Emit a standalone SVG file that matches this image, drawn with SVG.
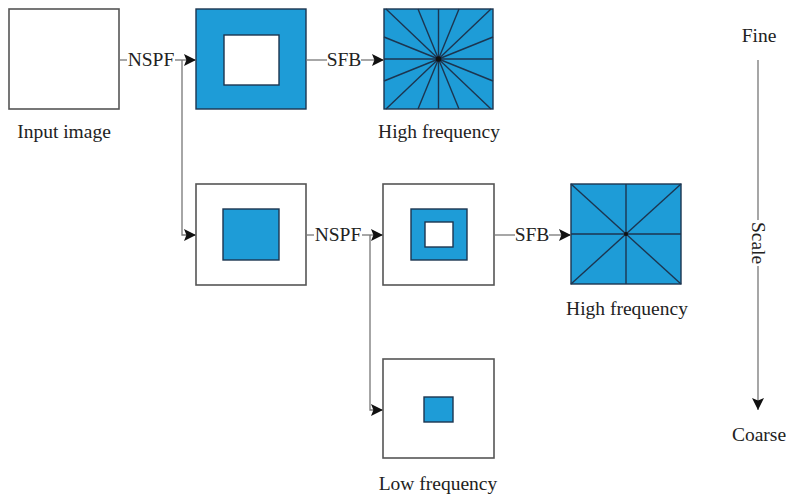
<svg xmlns="http://www.w3.org/2000/svg" width="786" height="494" viewBox="0 0 786 494">
<defs>
<style>
text{font-family:"Liberation Serif","Times New Roman",serif;font-size:19.5px;fill:#222}
.box{fill:#fff;stroke:#555;stroke-width:1.6}
.blue{fill:#1e9cd7;stroke:#1c3550;stroke-width:1.4}
.inner{fill:#fff;stroke:#1c3550;stroke-width:1.4}
.ray{stroke:#1c3550;stroke-width:1.4;fill:none}
.conn{stroke:#777;stroke-width:1.3;fill:none}
</style>
<marker id="ah" viewBox="0 0 10 10" refX="10" refY="5" markerWidth="12" markerHeight="12" markerUnits="userSpaceOnUse" orient="auto">
<path d="M0,0 L10,5 L0,10 L2,5 Z" fill="#111"/>
</marker>
</defs>
<rect width="786" height="494" fill="#fff"/>

<g id="input">
<rect class="box" x="9" y="9" width="110" height="100"/>
<text x="64" y="138" text-anchor="middle">Input image</text>
</g>

<g id="band1">
<rect class="blue" x="196" y="9" width="110" height="100"/>
<rect class="inner" x="224" y="35" width="55" height="50"/>
</g>

<g id="hf1">
<rect class="blue" x="384" y="9" width="109" height="100"/>
<g class="ray">
<line x1="386" y1="9" x2="491" y2="109"/>
<line x1="491" y1="9" x2="386" y2="109"/>
<line x1="438.5" y1="9" x2="438.5" y2="109"/>
<line x1="384" y1="59" x2="493" y2="59"/>
<line x1="418" y1="9" x2="459" y2="109"/>
<line x1="459" y1="9" x2="418" y2="109"/>
<line x1="384" y1="37" x2="493" y2="81"/>
<line x1="384" y1="81" x2="493" y2="37"/>
</g>
<circle cx="438.5" cy="59" r="2.8" fill="#111"/>
<text x="439" y="138" text-anchor="middle">High frequency</text>
</g>

<g id="level2">
<rect class="box" x="196" y="184" width="110" height="101"/>
<rect class="blue" x="223" y="209" width="56" height="51"/>
</g>

<g id="band2">
<rect class="box" x="383" y="184" width="111" height="101"/>
<rect class="blue" x="411" y="209" width="56" height="51"/>
<rect class="inner" x="425" y="222" width="28" height="25"/>
</g>

<g id="hf2">
<rect class="blue" x="571" y="184" width="110" height="100"/>
<g class="ray">
<line x1="571" y1="184" x2="681" y2="284"/>
<line x1="681" y1="184" x2="571" y2="284"/>
<line x1="626" y1="184" x2="626" y2="284"/>
<line x1="571" y1="234" x2="681" y2="234"/>
</g>
<circle cx="626" cy="234" r="2" fill="#111"/>
<text x="627" y="315" text-anchor="middle">High frequency</text>
</g>

<g id="lowfreq">
<rect class="box" x="383" y="359" width="111" height="99"/>
<rect class="blue" x="424" y="397" width="29" height="25"/>
<text x="438" y="490" text-anchor="middle">Low frequency</text>
</g>

<g id="connectors">
<line class="conn" x1="119" y1="60" x2="127" y2="60"/>
<text x="151" y="66" text-anchor="middle">NSPF</text>
<line class="conn" x1="175" y1="60" x2="196" y2="60" marker-end="url(#ah)"/>
<line class="conn" x1="306" y1="60" x2="327" y2="60"/>
<text x="344" y="66" text-anchor="middle">SFB</text>
<line class="conn" x1="361" y1="60" x2="384" y2="60" marker-end="url(#ah)"/>
<polyline class="conn" points="182,60 182,235 196,235" marker-end="url(#ah)"/>
<line class="conn" x1="306" y1="235" x2="314" y2="235"/>
<text x="338" y="241" text-anchor="middle">NSPF</text>
<line class="conn" x1="362" y1="235" x2="383" y2="235" marker-end="url(#ah)"/>
<polyline class="conn" points="370,235 370,410 383,410" marker-end="url(#ah)"/>
<line class="conn" x1="494" y1="235" x2="515" y2="235"/>
<text x="532" y="241" text-anchor="middle">SFB</text>
<line class="conn" x1="549" y1="235" x2="571" y2="235" marker-end="url(#ah)"/>
</g>

<g id="scale">
<text x="759" y="42" text-anchor="middle">Fine</text>
<line class="conn" x1="758" y1="60" x2="758" y2="220"/>
<line class="conn" x1="758" y1="266" x2="758" y2="410" marker-end="url(#ah)"/>
<text transform="translate(758,243) rotate(90)" text-anchor="middle" dominant-baseline="central">Scale</text>
<text x="759" y="441" text-anchor="middle">Coarse</text>
</g>
</svg>
